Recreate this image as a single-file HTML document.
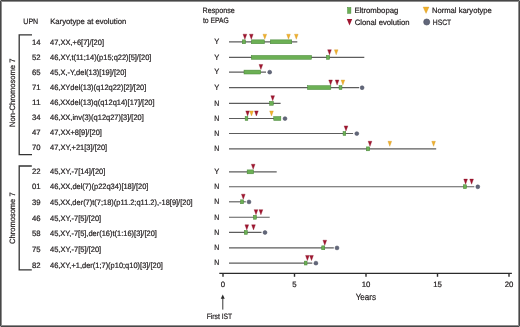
<!DOCTYPE html>
<html><head><meta charset="utf-8"><style>
html,body{margin:0;padding:0;background:#fff;width:520px;height:327px;overflow:hidden}
svg{display:block;will-change:transform}
text{font-family:"Liberation Sans",sans-serif;text-rendering:geometricPrecision;stroke:#231f20;stroke-width:0.22}
</style></head><body>
<svg width="520" height="327" viewBox="0 0 520 327" font-family='"Liberation Sans", sans-serif' fill="#231f20">
<rect x="0.5" y="0.5" width="519" height="326" fill="none" stroke="#474747" stroke-width="1"/>
<rect x="1.5" y="1.5" width="517" height="324" fill="none" stroke="#8e8e8e" stroke-width="1"/>
<rect x="0" y="0" width="1" height="1" fill="#a8a8a8"/>
<rect x="519" y="0" width="1" height="1" fill="#a8a8a8"/>
<rect x="0" y="326" width="1" height="1" fill="#a8a8a8"/>
<rect x="519" y="326" width="1" height="1" fill="#a8a8a8"/>
<text x="23.30" y="24.00" font-size="7.8" textLength="14.90" lengthAdjust="spacingAndGlyphs">UPN</text>
<text x="50.20" y="24.00" font-size="7.8" textLength="76.00" lengthAdjust="spacingAndGlyphs">Karyotype at evolution</text>
<text x="202.60" y="13.30" font-size="7.8" textLength="32.20" lengthAdjust="spacingAndGlyphs">Response</text>
<text x="202.90" y="23.10" font-size="7.8" textLength="25.80" lengthAdjust="spacingAndGlyphs">to EPAG</text>
<text x="31.90" y="44.60" font-size="7.8" textLength="8.60" lengthAdjust="spacingAndGlyphs">14</text>
<text x="50.00" y="44.60" font-size="7.8" textLength="54.02" lengthAdjust="spacingAndGlyphs">47,XX,+6[7]/[20]</text>
<text x="214.20" y="44.10" font-size="7.8" textLength="5.00" lengthAdjust="spacingAndGlyphs">Y</text>
<text x="31.90" y="59.70" font-size="7.8" textLength="8.60" lengthAdjust="spacingAndGlyphs">52</text>
<text x="50.00" y="59.70" font-size="7.8" textLength="101.40" lengthAdjust="spacingAndGlyphs">46,XY,t(11;14)(p15;q22)[5]/[20]</text>
<text x="214.20" y="59.66" font-size="7.8" textLength="5.00" lengthAdjust="spacingAndGlyphs">Y</text>
<text x="31.90" y="74.80" font-size="7.8" textLength="8.60" lengthAdjust="spacingAndGlyphs">65</text>
<text x="50.00" y="74.80" font-size="7.8" textLength="76.37" lengthAdjust="spacingAndGlyphs">45,X,-Y,del(13)[19]/[20]</text>
<text x="214.20" y="74.36" font-size="7.8" textLength="5.00" lengthAdjust="spacingAndGlyphs">Y</text>
<text x="31.90" y="89.90" font-size="7.8" textLength="8.60" lengthAdjust="spacingAndGlyphs">71</text>
<text x="50.00" y="89.90" font-size="7.8" textLength="96.31" lengthAdjust="spacingAndGlyphs">46,XYdel(13)(q12q22)[2]/[20]</text>
<text x="214.20" y="89.90" font-size="7.8" textLength="5.00" lengthAdjust="spacingAndGlyphs">Y</text>
<text x="31.90" y="105.00" font-size="7.8" textLength="8.60" lengthAdjust="spacingAndGlyphs">11</text>
<text x="50.00" y="105.00" font-size="7.8" textLength="104.56" lengthAdjust="spacingAndGlyphs">46,XXdel(13)q(q12q14)[17]/[20]</text>
<text x="214.20" y="105.60" font-size="7.8" textLength="5.00" lengthAdjust="spacingAndGlyphs">N</text>
<text x="31.90" y="120.10" font-size="7.8" textLength="8.60" lengthAdjust="spacingAndGlyphs">34</text>
<text x="50.00" y="120.10" font-size="7.8" textLength="93.83" lengthAdjust="spacingAndGlyphs">46,XX,inv(3)(q12q27)[3]/[20]</text>
<text x="214.20" y="120.80" font-size="7.8" textLength="5.00" lengthAdjust="spacingAndGlyphs">N</text>
<text x="31.90" y="135.20" font-size="7.8" textLength="8.60" lengthAdjust="spacingAndGlyphs">47</text>
<text x="50.00" y="135.20" font-size="7.8" textLength="51.96" lengthAdjust="spacingAndGlyphs">47,XX+8[9]/[20]</text>
<text x="214.20" y="135.80" font-size="7.8" textLength="5.00" lengthAdjust="spacingAndGlyphs">N</text>
<text x="31.90" y="150.30" font-size="7.8" textLength="8.60" lengthAdjust="spacingAndGlyphs">70</text>
<text x="50.00" y="150.30" font-size="7.8" textLength="57.20" lengthAdjust="spacingAndGlyphs">47,XY,+21[3]/[20]</text>
<text x="214.20" y="151.15" font-size="7.8" textLength="5.00" lengthAdjust="spacingAndGlyphs">N</text>
<text x="31.90" y="173.80" font-size="7.8" textLength="8.60" lengthAdjust="spacingAndGlyphs">22</text>
<text x="50.00" y="173.80" font-size="7.8" textLength="55.33" lengthAdjust="spacingAndGlyphs">45,XY,-7[14]/[20]</text>
<text x="214.20" y="174.15" font-size="7.8" textLength="5.00" lengthAdjust="spacingAndGlyphs">Y</text>
<text x="31.90" y="189.42" font-size="7.8" textLength="8.60" lengthAdjust="spacingAndGlyphs">01</text>
<text x="50.00" y="189.42" font-size="7.8" textLength="98.37" lengthAdjust="spacingAndGlyphs">46,XX,del(7)(p22q34)[18]/[20]</text>
<text x="214.20" y="189.00" font-size="7.8" textLength="5.00" lengthAdjust="spacingAndGlyphs">N</text>
<text x="31.90" y="205.04" font-size="7.8" textLength="8.60" lengthAdjust="spacingAndGlyphs">39</text>
<text x="50.00" y="205.04" font-size="7.8" textLength="142.62" lengthAdjust="spacingAndGlyphs">45,XX,der(7)t(7;18)(p11.2;q11.2),-18[9]/[20]</text>
<text x="214.20" y="204.10" font-size="7.8" textLength="5.00" lengthAdjust="spacingAndGlyphs">N</text>
<text x="31.90" y="220.66" font-size="7.8" textLength="8.60" lengthAdjust="spacingAndGlyphs">46</text>
<text x="50.00" y="220.66" font-size="7.8" textLength="51.21" lengthAdjust="spacingAndGlyphs">45,XY,-7[5]/[20]</text>
<text x="214.20" y="219.55" font-size="7.8" textLength="5.00" lengthAdjust="spacingAndGlyphs">N</text>
<text x="31.90" y="236.28" font-size="7.8" textLength="8.60" lengthAdjust="spacingAndGlyphs">58</text>
<text x="50.00" y="236.28" font-size="7.8" textLength="106.88" lengthAdjust="spacingAndGlyphs">45,XY,-7[5],der(16)t(1:16)[3]/[20]</text>
<text x="214.20" y="234.70" font-size="7.8" textLength="5.00" lengthAdjust="spacingAndGlyphs">N</text>
<text x="31.90" y="251.90" font-size="7.8" textLength="8.60" lengthAdjust="spacingAndGlyphs">75</text>
<text x="50.00" y="251.90" font-size="7.8" textLength="51.21" lengthAdjust="spacingAndGlyphs">45,XY,-7[5]/[20]</text>
<text x="214.20" y="250.10" font-size="7.8" textLength="5.00" lengthAdjust="spacingAndGlyphs">N</text>
<text x="31.90" y="267.52" font-size="7.8" textLength="8.60" lengthAdjust="spacingAndGlyphs">82</text>
<text x="50.00" y="267.52" font-size="7.8" textLength="112.87" lengthAdjust="spacingAndGlyphs">46,XY,+1,der(1;7)(p10;q10)[3]/[20]</text>
<text x="214.20" y="265.35" font-size="7.8" textLength="5.00" lengthAdjust="spacingAndGlyphs">N</text>
<path d="M32,34.9 H19.2 V154.7 H32" fill="none" stroke="#333" stroke-width="1.3"/>
<path d="M31.8,166 H19.2 V269.9 H31.8" fill="none" stroke="#333" stroke-width="1.3"/>
<text transform="translate(14.7,127.0) rotate(-90)" font-size="7.8" textLength="68.4" lengthAdjust="spacingAndGlyphs">Non-Chromosome 7</text>
<text transform="translate(14.7,243.9) rotate(-90)" font-size="7.8" textLength="51.5" lengthAdjust="spacingAndGlyphs">Chromosome 7</text>
<line x1="229" y1="41.8" x2="297.3" y2="41.8" stroke="#5c5c5c" stroke-width="1.15"/>
<rect x="242.35" y="39.85" width="3.20" height="3.90" fill="#6cb055" stroke="#468537" stroke-width="0.5"/>
<rect x="251.45" y="39.85" width="12.90" height="3.90" fill="#6cb055" stroke="#468537" stroke-width="0.5"/>
<rect x="270.35" y="39.85" width="21.40" height="3.90" fill="#6cb055" stroke="#468537" stroke-width="0.5"/>
<polygon points="243.05,34.20 246.75,34.20 244.90,39.30" fill="#a01630" stroke="#871227" stroke-width="0.35" stroke-linejoin="round"/>
<polygon points="249.45,34.20 253.15,34.20 251.30,39.30" fill="#a01630" stroke="#871227" stroke-width="0.35" stroke-linejoin="round"/>
<polygon points="262.95,34.20 266.65,34.20 264.80,39.30" fill="#f0b02c" stroke="#c98f1c" stroke-width="0.3"/>
<polygon points="286.65,34.20 290.35,34.20 288.50,39.30" fill="#f0b02c" stroke="#c98f1c" stroke-width="0.3"/>
<polygon points="294.45,34.20 298.15,34.20 296.30,39.30" fill="#f0b02c" stroke="#c98f1c" stroke-width="0.3"/>
<line x1="229" y1="57.36" x2="364.3" y2="57.36" stroke="#5c5c5c" stroke-width="1.15"/>
<rect x="251.25" y="55.41" width="60.30" height="3.90" fill="#6cb055" stroke="#468537" stroke-width="0.5"/>
<rect x="326.45" y="55.41" width="3.20" height="3.90" fill="#6cb055" stroke="#468537" stroke-width="0.5"/>
<polygon points="327.65,49.76 331.35,49.76 329.50,54.86" fill="#a01630" stroke="#871227" stroke-width="0.35" stroke-linejoin="round"/>
<polygon points="334.35,49.76 338.05,49.76 336.20,54.86" fill="#f0b02c" stroke="#c98f1c" stroke-width="0.3"/>
<line x1="229" y1="72.06" x2="266" y2="72.06" stroke="#5c5c5c" stroke-width="1.15"/>
<rect x="244.00" y="70.11" width="16.65" height="3.90" fill="#6cb055" stroke="#468537" stroke-width="0.5"/>
<polygon points="259.05,64.46 262.75,64.46 260.90,69.56" fill="#a01630" stroke="#871227" stroke-width="0.35" stroke-linejoin="round"/>
<circle cx="269.7" cy="72.16" r="1.95" fill="#62677a" stroke="#464b5d" stroke-width="0.5"/>
<line x1="229" y1="87.6" x2="359.1" y2="87.6" stroke="#5c5c5c" stroke-width="1.15"/>
<rect x="307.45" y="85.65" width="23.40" height="3.90" fill="#6cb055" stroke="#468537" stroke-width="0.5"/>
<rect x="339.05" y="85.65" width="2.90" height="3.90" fill="#6cb055" stroke="#468537" stroke-width="0.5"/>
<polygon points="328.75,80.00 332.45,80.00 330.60,85.10" fill="#a01630" stroke="#871227" stroke-width="0.35" stroke-linejoin="round"/>
<polygon points="335.25,80.00 338.95,80.00 337.10,85.10" fill="#a01630" stroke="#871227" stroke-width="0.35" stroke-linejoin="round"/>
<polygon points="341.05,80.00 344.75,80.00 342.90,85.10" fill="#f0b02c" stroke="#c98f1c" stroke-width="0.3"/>
<circle cx="362.1" cy="87.70" r="1.95" fill="#62677a" stroke="#464b5d" stroke-width="0.5"/>
<line x1="229" y1="103.3" x2="280.6" y2="103.3" stroke="#5c5c5c" stroke-width="1.15"/>
<rect x="269.65" y="101.35" width="3.70" height="3.90" fill="#6cb055" stroke="#468537" stroke-width="0.5"/>
<polygon points="270.85,95.70 274.55,95.70 272.70,100.80" fill="#a01630" stroke="#871227" stroke-width="0.35" stroke-linejoin="round"/>
<line x1="229" y1="118.5" x2="276" y2="118.5" stroke="#5c5c5c" stroke-width="1.15"/>
<rect x="245.15" y="116.55" width="2.70" height="3.90" fill="#6cb055" stroke="#468537" stroke-width="0.5"/>
<rect x="273.75" y="116.55" width="7.10" height="3.90" fill="#6cb055" stroke="#468537" stroke-width="0.5"/>
<polygon points="245.75,110.90 249.45,110.90 247.60,116.00" fill="#a01630" stroke="#871227" stroke-width="0.35" stroke-linejoin="round"/>
<polygon points="254.55,110.90 258.25,110.90 256.40,116.00" fill="#a01630" stroke="#871227" stroke-width="0.35" stroke-linejoin="round"/>
<polygon points="249.65,110.90 253.35,110.90 251.50,116.00" fill="#f0b02c" stroke="#c98f1c" stroke-width="0.3"/>
<polygon points="269.65,110.90 273.35,110.90 271.50,116.00" fill="#f0b02c" stroke="#c98f1c" stroke-width="0.3"/>
<circle cx="285" cy="118.60" r="1.95" fill="#62677a" stroke="#464b5d" stroke-width="0.5"/>
<line x1="229" y1="133.5" x2="353.1" y2="133.5" stroke="#5c5c5c" stroke-width="1.15"/>
<rect x="343.05" y="131.55" width="2.70" height="3.90" fill="#6cb055" stroke="#468537" stroke-width="0.5"/>
<polygon points="344.15,125.90 347.85,125.90 346.00,131.00" fill="#a01630" stroke="#871227" stroke-width="0.35" stroke-linejoin="round"/>
<circle cx="356.8" cy="133.60" r="1.95" fill="#62677a" stroke="#464b5d" stroke-width="0.5"/>
<line x1="229" y1="148.85" x2="436.2" y2="148.85" stroke="#5c5c5c" stroke-width="1.15"/>
<rect x="366.45" y="146.90" width="3.20" height="3.90" fill="#6cb055" stroke="#468537" stroke-width="0.5"/>
<polygon points="368.15,141.25 371.85,141.25 370.00,146.35" fill="#a01630" stroke="#871227" stroke-width="0.35" stroke-linejoin="round"/>
<polygon points="387.95,141.25 391.65,141.25 389.80,146.35" fill="#f0b02c" stroke="#c98f1c" stroke-width="0.3"/>
<polygon points="431.75,141.25 435.45,141.25 433.60,146.35" fill="#f0b02c" stroke="#c98f1c" stroke-width="0.3"/>
<line x1="229" y1="171.85" x2="276.7" y2="171.85" stroke="#5c5c5c" stroke-width="1.15"/>
<rect x="247.15" y="169.90" width="6.40" height="3.90" fill="#6cb055" stroke="#468537" stroke-width="0.5"/>
<polygon points="251.35,164.25 255.05,164.25 253.20,169.35" fill="#a01630" stroke="#871227" stroke-width="0.35" stroke-linejoin="round"/>
<line x1="229" y1="186.7" x2="474.3" y2="186.7" stroke="#5c5c5c" stroke-width="1.15"/>
<rect x="463.35" y="184.75" width="3.20" height="3.90" fill="#6cb055" stroke="#468537" stroke-width="0.5"/>
<polygon points="463.75,179.10 467.45,179.10 465.60,184.20" fill="#a01630" stroke="#871227" stroke-width="0.35" stroke-linejoin="round"/>
<polygon points="469.75,179.10 473.45,179.10 471.60,184.20" fill="#a01630" stroke="#871227" stroke-width="0.35" stroke-linejoin="round"/>
<circle cx="477.8" cy="186.80" r="1.95" fill="#62677a" stroke="#464b5d" stroke-width="0.5"/>
<line x1="229" y1="201.8" x2="245.8" y2="201.8" stroke="#5c5c5c" stroke-width="1.15"/>
<rect x="240.65" y="199.85" width="2.90" height="3.90" fill="#6cb055" stroke="#468537" stroke-width="0.5"/>
<polygon points="241.45,194.20 245.15,194.20 243.30,199.30" fill="#a01630" stroke="#871227" stroke-width="0.35" stroke-linejoin="round"/>
<circle cx="249" cy="201.90" r="1.95" fill="#62677a" stroke="#464b5d" stroke-width="0.5"/>
<line x1="229" y1="217.25" x2="269.7" y2="217.25" stroke="#5c5c5c" stroke-width="1.15"/>
<rect x="253.45" y="215.30" width="3.00" height="3.90" fill="#6cb055" stroke="#468537" stroke-width="0.5"/>
<polygon points="254.15,209.65 257.85,209.65 256.00,214.75" fill="#a01630" stroke="#871227" stroke-width="0.35" stroke-linejoin="round"/>
<polygon points="259.05,209.65 262.75,209.65 260.90,214.75" fill="#a01630" stroke="#871227" stroke-width="0.35" stroke-linejoin="round"/>
<line x1="229" y1="232.4" x2="261.5" y2="232.4" stroke="#5c5c5c" stroke-width="1.15"/>
<rect x="244.25" y="230.45" width="3.10" height="3.90" fill="#6cb055" stroke="#468537" stroke-width="0.5"/>
<polygon points="244.95,224.80 248.65,224.80 246.80,229.90" fill="#a01630" stroke="#871227" stroke-width="0.35" stroke-linejoin="round"/>
<polygon points="251.65,224.80 255.35,224.80 253.50,229.90" fill="#a01630" stroke="#871227" stroke-width="0.35" stroke-linejoin="round"/>
<circle cx="265" cy="232.50" r="1.95" fill="#62677a" stroke="#464b5d" stroke-width="0.5"/>
<line x1="229" y1="247.8" x2="333.8" y2="247.8" stroke="#5c5c5c" stroke-width="1.15"/>
<rect x="321.75" y="245.85" width="3.00" height="3.90" fill="#6cb055" stroke="#468537" stroke-width="0.5"/>
<polygon points="322.95,240.20 326.65,240.20 324.80,245.30" fill="#a01630" stroke="#871227" stroke-width="0.35" stroke-linejoin="round"/>
<circle cx="337" cy="247.90" r="1.95" fill="#62677a" stroke="#464b5d" stroke-width="0.5"/>
<line x1="229" y1="263.05" x2="312.3" y2="263.05" stroke="#5c5c5c" stroke-width="1.15"/>
<rect x="304.35" y="261.10" width="2.70" height="3.90" fill="#6cb055" stroke="#468537" stroke-width="0.5"/>
<polygon points="305.55,255.45 309.25,255.45 307.40,260.55" fill="#a01630" stroke="#871227" stroke-width="0.35" stroke-linejoin="round"/>
<polygon points="309.65,255.45 313.35,255.45 311.50,260.55" fill="#a01630" stroke="#871227" stroke-width="0.35" stroke-linejoin="round"/>
<circle cx="315.9" cy="263.15" r="1.95" fill="#62677a" stroke="#464b5d" stroke-width="0.5"/>
<rect x="347.6" y="7.5" width="3.3" height="5.8" fill="#6cb055" stroke="#468537" stroke-width="0.5"/>
<text x="354.40" y="13.20" font-size="7.8" textLength="44.00" lengthAdjust="spacingAndGlyphs">Eltrombopag</text>
<polygon points="346.8,19.1 352.2,19.1 349.5,25.4" fill="#a01630"/>
<text x="354.70" y="24.80" font-size="7.8" textLength="54.80" lengthAdjust="spacingAndGlyphs">Clonal evolution</text>
<polygon points="423.1,7.0 429.0,7.0 426.05,13.4" fill="#f0b02c" stroke="#c98f1c" stroke-width="0.3"/>
<text x="431.90" y="13.20" font-size="7.8" textLength="60.00" lengthAdjust="spacingAndGlyphs">Normal karyotype</text>
<circle cx="426.7" cy="22" r="3.05" fill="#62677a" stroke="#464b5d" stroke-width="0.6"/>
<text x="432.80" y="24.60" font-size="7.8" textLength="18.40" lengthAdjust="spacingAndGlyphs">HSCT</text>
<line x1="219.3" y1="273.4" x2="511.9" y2="273.4" stroke="#2b2b2b" stroke-width="1.2"/>
<line x1="223" y1="273.4" x2="223" y2="276.8" stroke="#2b2b2b" stroke-width="1.4"/>
<text x="223.00" y="286.50" font-size="7.8" text-anchor="middle">0</text>
<line x1="294.5" y1="273.4" x2="294.5" y2="276.8" stroke="#2b2b2b" stroke-width="1.4"/>
<text x="294.50" y="286.50" font-size="7.8" text-anchor="middle">5</text>
<line x1="366" y1="273.4" x2="366" y2="276.8" stroke="#2b2b2b" stroke-width="1.4"/>
<text x="366.00" y="286.50" font-size="7.8" text-anchor="middle">10</text>
<line x1="437.5" y1="273.4" x2="437.5" y2="276.8" stroke="#2b2b2b" stroke-width="1.4"/>
<text x="437.50" y="286.50" font-size="7.8" text-anchor="middle">15</text>
<line x1="509" y1="273.4" x2="509" y2="276.8" stroke="#2b2b2b" stroke-width="1.4"/>
<text x="509.00" y="286.50" font-size="7.8" text-anchor="middle">20</text>
<text x="355.70" y="299.80" font-size="9" textLength="20.40" lengthAdjust="spacingAndGlyphs">Years</text>
<line x1="222.8" y1="298" x2="222.8" y2="309.6" stroke="#2b2b2b" stroke-width="0.95"/>
<polygon points="222.75,294.5 220.75,298.8 224.75,298.8" fill="#2b2b2b"/>
<text x="206.70" y="319.40" font-size="7.8" textLength="25.40" lengthAdjust="spacingAndGlyphs">First IST</text>
</svg>
</body></html>
